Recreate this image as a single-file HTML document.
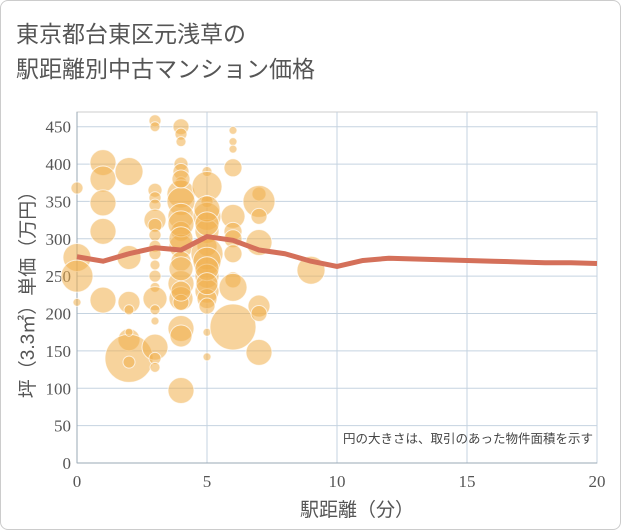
<!DOCTYPE html>
<html><head><meta charset="utf-8"><style>
body{margin:0;background:#fff;}
#c{position:relative;width:619px;height:528px;border:1px solid #ccc;border-radius:8px;overflow:hidden;background:#fff;}
.t{position:absolute;left:15px;font-family:"Liberation Sans","Noto Sans CJK JP",sans-serif;font-size:23px;color:#555;}
</style></head><body>
<div id="c">
<div class="t" style="top:14px">東京都台東区元浅草の</div>
<div class="t" style="top:49px">駅距離別中古マンション価格</div>
<svg id="s" width="621" height="530" style="position:absolute;left:-1px;top:-1px"></svg>
</div>
<script>
const bubX=[0,0,0,0,1,1,1,1,1,2,2,2,2,2,2,2,2,3,3,3,3,3,3,3,3,3,3,3,3,3,3,3,3,3,3,3,4,4,4,4,4,4,4,4,4,4,4,4,4,4,4,4,4,4,4,4,4,4,4,5,5,5,5,5,5,5,5,5,5,5,5,5,5,5,5,5,5,6,6,6,6,6,6,6,6,6,6,6,7,7,7,7,7,7,7,9];
const bubY=[275,250,368,215,402,380,348,310,218,390,275,215,205,165,140,135,175,458,450,365,355,345,325,318,305,290,280,265,250,235,220,205,190,155,140,128,450,440,430,400,390,375,360,350,330,310,290,270,240,220,215,180,170,97,380,320,300,260,230,390,370,350,330,310,290,280,270,250,230,220,210,175,142,340,320,260,240,445,430,420,395,330,310,300,280,245,235,182,360,350,330,295,210,200,148,258];
const bubR=[14,16,6,4,13,13,13,13,13,14,12,11,5,11,24,6,4,6,5,7,6,6,11,7,6,6,6,5,6,5,12,5,4,13,6,5,8,6,5,7,8,6,14,14,13,10,12,10,13,12,8,13,11,13,9,13,12,12,10,5,15,6,14,12,10,16,14,12,12,10,8,4,4,13,12,12,11,4,4,4,9,12,9,9,9,8,14,23,7,16,8,13,11,8,13,14];
const lineX=[0,1,2,3,4,5,6,7,8,9,10,11,12,13,14,15,16,17,18,19,20];
const lineY=[276,270,280,288,285,303,298,285,280,270,263,271,274,273,272,271,270,269,268,268,267];
const xTicks=[0,5,10,15,20];
const yTicks=[0,50,100,150,200,250,300,350,400,450];
const L=77,R=597,T=112,B=463;
const xs=v=>L+v*(R-L)/20, ys=v=>B-v*(B-126.7)/450;
const s=document.getElementById('s'),NS='http://www.w3.org/2000/svg';
function el(t,a,txt){const e=document.createElementNS(NS,t);for(const k in a)e.setAttribute(k,a[k]);if(txt!==undefined)e.textContent=txt;s.appendChild(e);return e;}
let e;
e=el('rect',{x:L,y:T,width:R-L,height:B-T,fill:'#fff',stroke:'#ccc'});

yTicks.forEach(v=>{e=el('line',{x1:L,x2:R,y1:ys(v),y2:ys(v),stroke:'#c5d3e0'});

e=el('text',{x:L-6,y:ys(v)+6,'text-anchor':'end','font-size':17,fill:'#555','font-family':'Liberation Serif,serif'},v);
});
xTicks.forEach(v=>{e=el('line',{x1:xs(v),x2:xs(v),y1:T,y2:B,stroke:'#c5d3e0'});

e=el('text',{x:xs(v),y:487,'text-anchor':'middle','font-size':17,fill:'#555','font-family':'Liberation Serif,serif'},v);
});
e=el('line',{x1:L,x2:L,y1:T,y2:B,stroke:'#9aa8b5'});

e=el('line',{x1:L,x2:R,y1:B,y2:B,stroke:'#9aa8b5'});

bubX.forEach((x,i)=>{e=el('circle',{cx:xs(x),cy:ys(bubY[i]),r:bubR[i],fill:'rgba(240,175,75,0.55)',stroke:'rgba(255,255,255,0.7)','stroke-width':1});
});
e=el('polyline',{points:lineX.map((x,i)=>xs(x)+','+ys(lineY[i])).join(' '),fill:'none',stroke:'#d4705a','stroke-width':5,'stroke-linejoin':'round'});

e=el('text',{x:593,y:443,'text-anchor':'end','font-size':12.5,fill:'#444','font-family':'Liberation Sans,Noto Sans CJK JP,sans-serif'},'円の大きさは、取引のあった物件面積を示す');

e=el('text',{x:357,y:516,'text-anchor':'middle','font-size':19,fill:'#555','font-family':'Liberation Sans,Noto Sans CJK JP,sans-serif'},'駅距離（分）');

e=el('text',{x:0,y:0,'text-anchor':'middle','font-size':19,fill:'#555','font-family':'Liberation Sans,Noto Sans CJK JP,sans-serif',transform:'translate(34,290) rotate(-90)'},'坪（3.3㎡）単価（万円）');

</script>
</body></html>
